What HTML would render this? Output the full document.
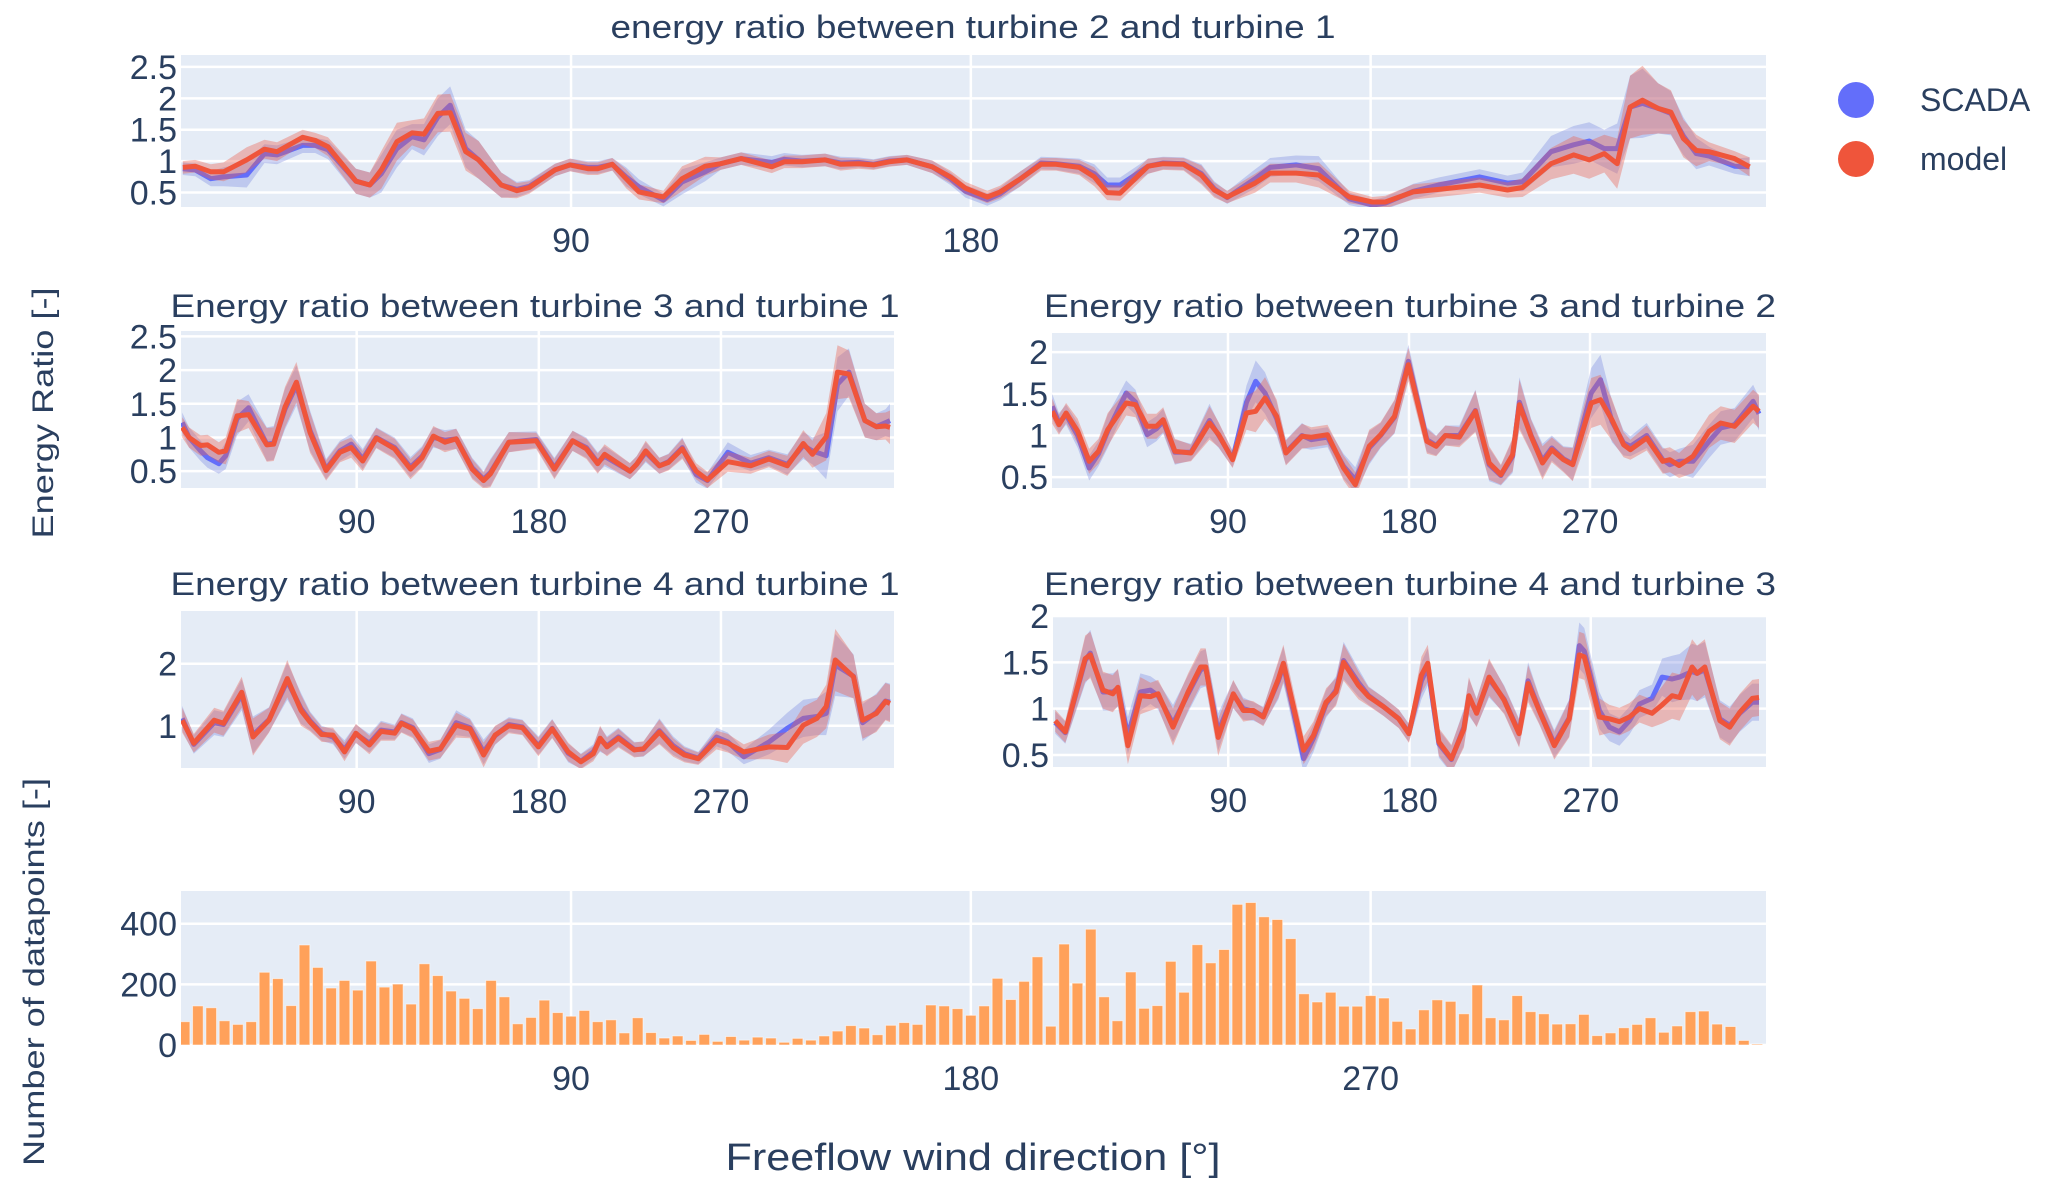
<!DOCTYPE html>
<html><head><meta charset="utf-8"><style>
html,body{margin:0;padding:0;background:#fff;}
svg{display:block;font-family:"Liberation Sans",Arial,sans-serif;}
</style></head><body>
<svg id="chart" width="2067" height="1193" viewBox="0 0 2067 1193" xmlns="http://www.w3.org/2000/svg">
<rect width="2067" height="1193" fill="#fff"/>
<text x="973" y="38" font-size="32" fill="#2a3f5f" text-anchor="middle" textLength="725" lengthAdjust="spacingAndGlyphs">energy ratio between turbine 2 and turbine 1</text>
<text x="535" y="317" font-size="32" fill="#2a3f5f" text-anchor="middle" textLength="729" lengthAdjust="spacingAndGlyphs">Energy ratio between turbine 3 and turbine 1</text>
<text x="1410" y="317" font-size="32" fill="#2a3f5f" text-anchor="middle" textLength="732" lengthAdjust="spacingAndGlyphs">Energy ratio between turbine 3 and turbine 2</text>
<text x="535" y="595" font-size="32" fill="#2a3f5f" text-anchor="middle" textLength="729" lengthAdjust="spacingAndGlyphs">Energy ratio between turbine 4 and turbine 1</text>
<text x="1410" y="595" font-size="32" fill="#2a3f5f" text-anchor="middle" textLength="732" lengthAdjust="spacingAndGlyphs">Energy ratio between turbine 4 and turbine 3</text>
<text transform="translate(53,413) rotate(-90)" font-size="30" fill="#2a3f5f" text-anchor="middle" textLength="251" lengthAdjust="spacingAndGlyphs">Energy Ratio [-]</text>
<text transform="translate(44,972) rotate(-90)" font-size="30" fill="#2a3f5f" text-anchor="middle" textLength="388" lengthAdjust="spacingAndGlyphs">Number of datapoints [-]</text>
<text x="973" y="1170" font-size="38" fill="#2a3f5f" text-anchor="middle" textLength="495" lengthAdjust="spacingAndGlyphs">Freeflow wind direction [°]</text>
<g>
<g><circle cx="1856" cy="100" r="18" fill="#636efa"/><text x="1920" y="111" font-size="32" fill="#2a3f5f">SCADA</text></g>
<g><circle cx="1856" cy="159" r="18" fill="#ef553b"/><text x="1920" y="170" font-size="32" fill="#2a3f5f">model</text></g>
</g>
<defs id="defs"></defs>
</svg>
<script>
// ---- data: top subplot (turbine 2 / turbine 1)
const degT = [2.6,5.4,8.9,11.8,17,21,23.8,29.6,32.4,35.3,41.6,44.7,47.3,50.8,54.2,56.9,60,62.8,66.3,69.2,74.3,77.8,80.6,86.4,89.8,93.8,96,99.3,102.4,105.3,110.8,115,120.2,123.7,128.3,135.2,138,142,147.2,150.7,154.7,158.1,161.6,165.6,171.3,175.4,178.8,183.7,186.6,191.2,195.8,199.2,204.4,207.8,210.7,213.6,219.9,223.3,227.9,231.9,234.8,237.7,244,247.4,253.2,258.3,265.2,270.4,273.3,279.6,285.3,294.5,300.8,304.2,310.6,315.7,319.2,322.6,325.5,328.4,331.2,334.7,337.6,340.4,343.3,346.2,351.9,355.3];
const modelT = [0.90,0.92,0.83,0.83,1.02,1.19,1.15,1.38,1.33,1.23,0.68,0.62,0.86,1.31,1.45,1.43,1.76,1.77,1.15,1.02,0.62,0.53,0.58,0.86,0.94,0.88,0.88,0.95,0.72,0.51,0.43,0.72,0.92,0.96,1.04,0.91,0.99,0.99,1.02,0.95,0.96,0.94,0.99,1.02,0.91,0.75,0.57,0.43,0.51,0.72,0.95,0.95,0.90,0.75,0.50,0.49,0.92,0.96,0.95,0.78,0.54,0.43,0.65,0.81,0.81,0.78,0.43,0.35,0.35,0.51,0.55,0.62,0.54,0.58,0.96,1.10,1.02,1.12,0.96,1.86,1.97,1.84,1.78,1.36,1.17,1.15,1.04,0.91];
const scadaT = [0.88,0.86,0.72,0.75,0.78,1.12,1.10,1.25,1.25,1.18,0.68,0.62,0.80,1.20,1.39,1.34,1.70,1.89,1.20,1.02,0.62,0.55,0.60,0.86,0.94,0.90,0.90,0.95,0.75,0.59,0.38,0.67,0.83,0.96,1.04,0.98,1.03,1.0,1.02,0.97,0.98,0.95,1.0,1.02,0.91,0.72,0.52,0.39,0.48,0.72,0.97,0.96,0.92,0.80,0.62,0.62,0.92,0.97,0.96,0.80,0.56,0.42,0.72,0.90,0.94,0.88,0.40,0.30,0.33,0.52,0.62,0.75,0.65,0.67,1.15,1.26,1.32,1.20,1.20,1.86,1.92,1.84,1.76,1.40,1.12,1.08,0.92,0.91];
const spreadT = [0.1,0.1,0.12,0.15,0.2,0.15,0.15,0.12,0.12,0.15,0.2,0.2,0.3,0.3,0.2,0.25,0.3,0.3,0.3,0.3,0.2,0.12,0.1,0.1,0.1,0.1,0.1,0.1,0.15,0.12,0.1,0.2,0.15,0.1,0.1,0.1,0.1,0.1,0.1,0.1,0.08,0.08,0.08,0.08,0.1,0.1,0.1,0.1,0.1,0.12,0.1,0.1,0.12,0.15,0.12,0.12,0.12,0.1,0.1,0.15,0.12,0.1,0.15,0.15,0.15,0.2,0.1,0.08,0.1,0.12,0.12,0.12,0.12,0.15,0.25,0.3,0.3,0.3,0.4,0.5,0.55,0.4,0.35,0.3,0.25,0.15,0.12,0.15];
// ---- turbine 3 / turbine 1
const degA = [3.8,7.2,12.9,16.3,21.9,25.3,30.9,36.6,45.6,49,54.6,60.2,67,74.9,81.7,87.3,93,99.7,108.8,116.6,122.3,127.9,133.6,139.2,147.1,152.7,156.1,165.2,178.7,187.7,196.7,203.5,209.1,212.5,225,228.3,232.8,239.6,244.1,250.9,257.7,263.3,273.4,284.7,293.7,302.8,310.7,315.2,322,327.6,333.2,341.1,346.8,351.3,353.5];
const modelA = [1.15,1.0,0.88,0.89,0.78,0.80,1.32,1.34,0.89,0.90,1.45,1.82,1.07,0.51,0.78,0.85,0.65,0.99,0.83,0.53,0.70,1.02,0.93,0.98,0.53,0.36,0.46,0.93,0.95,0.53,0.95,0.83,0.61,0.75,0.50,0.60,0.80,0.58,0.63,0.83,0.50,0.37,0.64,0.58,0.68,0.58,0.91,0.75,1.01,1.97,1.94,1.25,1.16,1.17,1.15];
const scadaA = [1.22,1.0,0.80,0.70,0.61,0.73,1.28,1.44,0.90,0.92,1.42,1.77,1.10,0.53,0.80,0.90,0.68,1.0,0.85,0.56,0.72,1.0,0.96,0.98,0.55,0.38,0.48,0.93,0.97,0.55,0.95,0.85,0.63,0.72,0.50,0.60,0.78,0.58,0.64,0.85,0.45,0.36,0.78,0.62,0.70,0.60,0.88,0.80,0.73,1.79,1.97,1.25,1.16,1.22,1.25];
const spreadA = [0.15,0.15,0.15,0.15,0.15,0.2,0.25,0.2,0.25,0.25,0.3,0.3,0.3,0.15,0.15,0.15,0.15,0.15,0.15,0.15,0.15,0.15,0.15,0.15,0.15,0.12,0.2,0.15,0.12,0.15,0.15,0.15,0.15,0.15,0.12,0.12,0.15,0.12,0.12,0.15,0.12,0.12,0.15,0.12,0.12,0.15,0.2,0.2,0.35,0.4,0.35,0.25,0.2,0.2,0.25];
// ---- turbine 3 / turbine 2
const degB = [2.6,6,9.5,15.3,21,25.6,30.2,39.4,44,49.8,54.4,57.8,63.6,71.6,80.8,85.4,92.3,99.2,103.8,108.4,114.2,118.8,126.8,131.4,139.5,147.5,153.3,160.2,165.9,172.8,179.7,188.9,193.5,198.1,205,213,219.9,225.7,231.5,234.9,240.7,246.4,251,256.8,261.4,270.6,275.2,280.9,286.7,290.1,298.2,306.2,309.7,314.3,321.2,329.2,335,341.9,351.1,354];
const modelB = [1.29,1.13,1.27,1.05,0.69,0.81,1.07,1.39,1.37,1.11,1.11,1.19,0.81,0.79,1.15,1.01,0.71,1.27,1.29,1.45,1.23,0.79,0.99,0.98,1.01,0.61,0.41,0.87,1.01,1.23,1.85,0.93,0.87,1.0,0.98,1.29,0.67,0.53,0.77,1.37,0.99,0.67,0.83,0.71,0.65,1.39,1.43,1.19,0.89,0.83,0.97,0.69,0.71,0.64,0.75,1.05,1.15,1.11,1.35,1.29];
const scadaB = [1.35,1.15,1.25,1.0,0.61,0.78,1.05,1.51,1.40,1.01,1.08,1.17,0.80,0.80,1.18,1.0,0.72,1.40,1.65,1.51,1.20,0.80,1.0,0.95,0.98,0.63,0.47,0.85,1.0,1.22,1.89,0.95,0.88,1.0,1.0,1.30,0.65,0.52,0.75,1.40,1.0,0.70,0.85,0.72,0.66,1.51,1.67,1.17,0.91,0.87,1.0,0.71,0.65,0.69,0.69,0.93,1.09,1.13,1.41,1.26];
const spreadB = [0.15,0.12,0.12,0.15,0.15,0.15,0.2,0.15,0.15,0.15,0.15,0.15,0.15,0.1,0.2,0.15,0.1,0.2,0.25,0.25,0.2,0.15,0.15,0.12,0.12,0.15,0.15,0.2,0.15,0.2,0.2,0.15,0.12,0.12,0.12,0.25,0.2,0.12,0.2,0.3,0.2,0.2,0.15,0.15,0.2,0.3,0.3,0.25,0.15,0.12,0.15,0.15,0.15,0.15,0.2,0.2,0.2,0.2,0.2,0.2];
// ---- turbine 4 / turbine 1
const degC = [3.8,9.5,19.6,24.2,33.2,38.8,46.7,55.7,62.5,67,72.7,78.3,84,89.6,96.3,102,108.8,112.1,117.8,125.7,131.3,139.2,146,152.7,158.4,165.2,171.9,179.8,186.6,194.5,200.8,206.9,210.3,213.7,219.3,227.2,231.7,239.6,246.4,252,258.8,267.8,273.4,281.3,293.8,302.8,310.7,317.4,322,326.5,335.5,340,346.8,351.3,353.5];
const modelC = [1.09,0.72,1.09,1.04,1.54,0.82,1.09,1.76,1.25,1.06,0.86,0.85,0.58,0.88,0.69,0.91,0.88,1.04,0.95,0.59,0.63,1.01,0.95,0.53,0.85,1.0,0.97,0.66,0.95,0.58,0.42,0.55,0.80,0.66,0.80,0.61,0.63,0.90,0.65,0.53,0.47,0.77,0.72,0.58,0.66,0.65,1.01,1.12,1.31,2.06,1.79,1.09,1.20,1.39,1.36];
const scadaC = [1.12,0.70,1.05,1.02,1.50,0.85,1.10,1.72,1.28,1.08,0.88,0.82,0.62,0.87,0.72,0.93,0.90,1.05,0.97,0.55,0.62,1.05,0.97,0.58,0.84,1.02,0.98,0.68,0.96,0.56,0.43,0.58,0.78,0.68,0.82,0.62,0.62,0.92,0.68,0.55,0.48,0.82,0.74,0.50,0.74,0.96,1.12,1.15,1.20,1.98,1.80,1.05,1.22,1.40,1.38];
const spreadC = [0.2,0.15,0.2,0.2,0.25,0.3,0.2,0.3,0.25,0.15,0.12,0.12,0.15,0.15,0.15,0.15,0.12,0.15,0.15,0.15,0.15,0.2,0.15,0.2,0.15,0.12,0.12,0.15,0.15,0.15,0.12,0.12,0.2,0.15,0.15,0.12,0.12,0.2,0.15,0.12,0.1,0.15,0.15,0.12,0.2,0.25,0.3,0.3,0.35,0.5,0.35,0.3,0.3,0.3,0.3];
// ---- turbine 4 / turbine 3
const degD = [4.1,9.1,19,21.5,27.8,32.7,35.2,40.2,46.4,51.4,55.2,62.6,70.1,76.3,78.8,85,92.5,97.5,102.5,107.4,114.9,117.4,127.4,132.3,138.6,143.5,147.3,154.7,159.7,167.2,174.7,179.7,185.9,189.1,194.6,200.8,207,209.5,213.3,219.5,227,234.4,238.9,244.4,251.9,259.3,264.3,266.8,274.3,279.3,284.2,289.2,294.2,300.4,305.4,310.4,314.1,320.3,322.8,326.6,334.1,339,344,350.2,353.5];
const modelD = [0.87,0.75,1.54,1.58,1.20,1.16,1.23,0.60,1.14,1.13,1.16,0.80,1.18,1.45,1.45,0.69,1.16,0.98,0.98,0.91,1.32,1.49,0.55,0.71,1.07,1.18,1.50,1.25,1.13,1.02,0.89,0.73,1.36,1.49,0.64,0.46,0.78,1.14,0.95,1.34,1.09,0.73,1.27,0.98,0.60,0.89,1.58,1.56,0.91,0.89,0.86,0.91,1.0,0.95,1.04,1.14,1.12,1.45,1.38,1.45,0.87,0.80,0.96,1.11,1.12];
const scadaD = [0.85,0.74,1.52,1.60,1.18,1.18,1.22,0.71,1.18,1.20,1.14,0.84,1.16,1.42,1.44,0.75,1.15,1.0,0.97,0.92,1.30,1.47,0.46,0.68,1.05,1.20,1.52,1.28,1.14,1.02,0.89,0.74,1.30,1.45,0.62,0.45,0.80,1.12,0.96,1.32,1.10,0.74,1.30,0.99,0.62,0.90,1.68,1.62,0.98,0.80,0.75,0.87,1.05,1.11,1.34,1.32,1.34,1.40,1.38,1.42,0.89,0.82,0.95,1.07,1.07];
const spreadD = [0.12,0.12,0.25,0.25,0.2,0.2,0.2,0.2,0.2,0.15,0.15,0.2,0.2,0.2,0.2,0.2,0.15,0.12,0.1,0.1,0.2,0.2,0.15,0.15,0.15,0.15,0.2,0.15,0.1,0.1,0.1,0.1,0.2,0.2,0.15,0.15,0.2,0.2,0.15,0.2,0.15,0.15,0.2,0.15,0.15,0.2,0.25,0.25,0.2,0.15,0.15,0.15,0.15,0.15,0.2,0.25,0.25,0.3,0.3,0.3,0.2,0.2,0.2,0.2,0.2];
// ---- datapoint counts, 3-degree bins centred at 3..357
const binCount = [77,129,123,80,68,77,240,219,130,330,256,188,213,181,277,191,201,135,268,229,178,154,120,213,159,70,91,148,107,95,114,77,83,40,90,41,23,30,15,35,12,28,16,26,23,9,22,16,30,46,64,56,34,65,74,68,132,129,120,98,129,220,150,210,291,62,333,204,382,159,80,241,121,130,276,174,331,271,315,464,470,423,414,351,169,142,174,128,128,163,155,78,53,116,149,144,103,198,90,83,163,110,103,69,70,101,31,40,57,68,90,42,63,110,112,69,61,15,3];
const binWidthDeg = 3;
const xTicks = [90,180,270];
const yTicksRatio = [0.5,1,1.5,2,2.5];
const yTicksB = [0.5,1,1.5,2];
const yTicksC = [1,2];
const yTicksCount = [0,200,400];

const NS = "http://www.w3.org/2000/svg";
const svg = document.getElementById('chart');
const defs = document.getElementById('defs');
function mk(tag, attrs, parent){
  const e = document.createElementNS(NS, tag);
  for (const k in attrs) e.setAttribute(k, attrs[k]);
  (parent || svg).appendChild(e);
  return e;
}

function panel(name, box, xr, yr, yticks){
  const g = mk('g', {});
  
  
  const sx = v => box.x0 + (v - xr[0]) / (xr[1] - xr[0]) * (box.x1 - box.x0);
  const sy = v => box.y1 - (v - yr[0]) / (yr[1] - yr[0]) * (box.y1 - box.y0);
  const bg = mk('rect', {x:box.x0, y:box.y0, width:box.x1-box.x0, height:box.y1-box.y0, fill:'#e5ecf6'}, g);
  
  
  xTicks.forEach(t => {
    const l = mk('line', {x1:sx(t), x2:sx(t), y1:box.y0, y2:box.y1, stroke:'#fff', 'stroke-width':2.5}, g);
    
    
    const tx = mk('text', {x:sx(t), y:box.y1 + 45, 'font-size':34, fill:'#2a3f5f', 'text-anchor':'middle'}, g);
    tx.textContent = t;
    
    
  });
  yticks.forEach(t => {
    const l = mk('line', {x1:box.x0, x2:box.x1, y1:sy(t), y2:sy(t), stroke:'#fff', 'stroke-width':2.5}, g);
    
    
    const tx = mk('text', {x:box.x0 - 4, y:sy(t) + 12, 'font-size':34, fill:'#2a3f5f', 'text-anchor':'end'}, g);
    tx.textContent = t;
    
    
  });
  const cid = 'clip-' + name;
  const cp = mk('clipPath', {id:cid}, defs);
  mk('rect', {x:box.x0, y:box.y0, width:box.x1-box.x0, height:box.y1-box.y0}, cp);
  const inner = mk('g', {'clip-path':'url(#' + cid + ')'}, g);
  return {g, inner, sx, sy};
}

function series(p, name, deg, vals, spread, lineColor, bandColor){
  const up = deg.map((d,i) => p.sx(d).toFixed(1) + ',' + p.sy(vals[i] + spread[i]).toFixed(1));
  const lo = deg.map((d,i) => p.sx(d).toFixed(1) + ',' + p.sy(vals[i] - spread[i]).toFixed(1)).reverse();
  const band = mk('polygon', {points: up.concat(lo).join(' '), fill: bandColor, stroke:'none'}, p.inner);
  
  
  const pts = deg.map((d,i) => p.sx(d).toFixed(1) + ',' + p.sy(vals[i]).toFixed(1)).join(' ');
  const line = mk('polyline', {points: pts, fill:'none', stroke: lineColor, 'stroke-width':5, 'stroke-linejoin':'round'}, p.inner);
  
  
}

const BLUE = '#636efa', RED = '#ef553b';
const BLUEBAND = 'rgba(110,125,220,0.32)', REDBAND = 'rgba(235,95,80,0.38)';

function ratioPanel(name, box, xr, yr, yt, deg, scada, model, spread){
  const p = panel(name, box, xr, yr, yt);
  series(p, name + '-scada', deg, scada, spread, BLUE, BLUEBAND);
  series(p, name + '-model', deg, model, spread, RED, REDBAND);
}

ratioPanel('subplot-t2-t1', {x0:181,x1:1766,y0:55,y1:207}, [2.2,359], [0.27,2.69], yTicksRatio, degT, scadaT, modelT, spreadT);
ratioPanel('subplot-t3-t1', {x0:181,x1:894,y0:331,y1:488}, [3.2,355.5], [0.25,2.58], yTicksRatio, degA, scadaA, modelA, spreadA);
ratioPanel('subplot-t3-t2', {x0:1052,x1:1766,y0:333,y1:488}, [2.5,357.5], [0.37,2.23], yTicksB, degB, scadaB, modelB, spreadB);
ratioPanel('subplot-t4-t1', {x0:181,x1:894,y0:611,y1:768}, [3.2,355.5], [0.32,2.85], yTicksC, degC, scadaC, modelC, spreadC);
ratioPanel('subplot-t4-t3', {x0:1053,x1:1766,y0:616,y1:767}, [3,357], [0.37,2.0], yTicksB, degD, scadaD, modelD, spreadD);

// bar chart
const pb = panel('subplot-datapoints', {x0:181,x1:1766,y0:891,y1:1045}, [2.2,359], [0,508], yTicksCount);
binCount.forEach((c,i) => {
  const center = binWidthDeg * (i + 1);
  const xl = pb.sx(center - binWidthDeg * 0.4), xr = pb.sx(center + binWidthDeg * 0.4);
  const r = mk('rect', {x:xl, y:pb.sy(c), width:xr-xl, height:pb.sy(0)-pb.sy(c), fill:'#ffa15a', stroke:'rgba(255,255,255,0.55)', 'stroke-width':1}, pb.inner);
  
  
});
</script>
</body></html>
